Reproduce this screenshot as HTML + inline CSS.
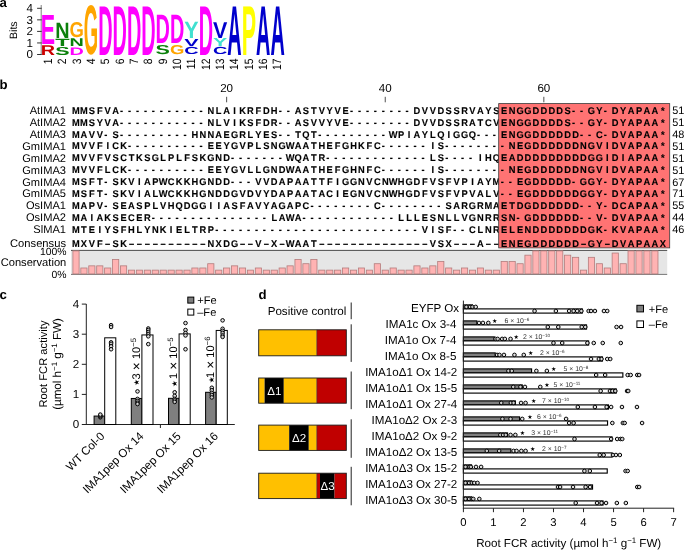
<!DOCTYPE html>
<html lang="en"><head><meta charset="utf-8"><title>IMA peptide figure</title>
<style>
html,body{margin:0;padding:0;background:#fff;}
body{width:685px;height:550px;overflow:hidden;}
svg{display:block;font-family:"Liberation Sans", "DejaVu Sans", sans-serif;}
text{white-space:pre;text-rendering:geometricPrecision;}
</style></head><body>
<svg width="685" height="550" viewBox="0 0 685 550">
<rect width="685" height="550" fill="#fff"/>
<g id="panel-a">
<text x="-0.60" y="7.00" font-size="13.2" font-weight="bold">a</text>
<line x1="41.20" y1="5.00" x2="41.20" y2="55.00" stroke="#808080" stroke-width="1"/>
<line x1="37.10" y1="54.50" x2="41.70" y2="54.50" stroke="#333" stroke-width="1"/>
<text x="33.00" y="58.40" font-size="11.6" text-anchor="end">0</text>
<line x1="37.10" y1="42.95" x2="41.70" y2="42.95" stroke="#333" stroke-width="1"/>
<text x="33.00" y="46.85" font-size="11.6" text-anchor="end">1</text>
<line x1="37.10" y1="31.40" x2="41.70" y2="31.40" stroke="#333" stroke-width="1"/>
<text x="33.00" y="35.30" font-size="11.6" text-anchor="end">2</text>
<line x1="37.10" y1="19.85" x2="41.70" y2="19.85" stroke="#333" stroke-width="1"/>
<text x="33.00" y="23.75" font-size="11.6" text-anchor="end">3</text>
<line x1="37.10" y1="8.30" x2="41.70" y2="8.30" stroke="#333" stroke-width="1"/>
<text x="33.00" y="12.20" font-size="11.6" text-anchor="end">4</text>
<text transform="translate(17.3,30.2) rotate(-90)" font-size="10.6" text-anchor="middle">Bits</text>
<text transform="translate(40.80,54.60) scale(0.1987,0.1424)" font-size="100" font-weight="bold" fill="#cc0000">R</text>
<text transform="translate(40.80,43.70) scale(0.2151,0.4230)" font-size="100" font-weight="bold" fill="#ff00ff">E</text>
<text transform="translate(51.87,58.6) rotate(-90) scale(0.95,1.12)" font-size="10.8" text-anchor="end">1</text>
<text transform="translate(55.15,54.68) scale(0.2151,0.1158)" font-size="100" font-weight="bold" fill="#0a800a">S</text>
<text transform="translate(55.15,45.80) scale(0.2349,0.1047)" font-size="100" font-weight="bold" fill="#0a800a">T</text>
<text transform="translate(55.15,37.90) scale(0.1987,0.2224)" font-size="100" font-weight="bold" fill="#0a800a">N</text>
<text transform="translate(66.22,58.6) rotate(-90) scale(0.95,1.12)" font-size="10.8" text-anchor="end">2</text>
<text transform="translate(69.50,54.60) scale(0.1987,0.1090)" font-size="100" font-weight="bold" fill="#ff00ff">D</text>
<text transform="translate(69.50,46.20) scale(0.1987,0.1134)" font-size="100" font-weight="bold" fill="#0a800a">N</text>
<text transform="translate(69.50,37.28) scale(0.1845,0.2161)" font-size="100" font-weight="bold" fill="#ffa500">G</text>
<text transform="translate(80.58,58.6) rotate(-90) scale(0.95,1.12)" font-size="10.8" text-anchor="end">3</text>
<text transform="translate(83.85,54.10) scale(0.1845,0.7006)" font-size="100" font-weight="bold" fill="#ffa500">G</text>
<text transform="translate(94.92,58.6) rotate(-90) scale(0.95,1.12)" font-size="10.8" text-anchor="end">4</text>
<text transform="translate(98.20,54.50) scale(0.1987,0.7064)" font-size="100" font-weight="bold" fill="#ff00ff">D</text>
<text transform="translate(109.27,58.6) rotate(-90) scale(0.95,1.12)" font-size="10.8" text-anchor="end">5</text>
<text transform="translate(112.55,54.50) scale(0.1987,0.7064)" font-size="100" font-weight="bold" fill="#ff00ff">D</text>
<text transform="translate(123.62,58.6) rotate(-90) scale(0.95,1.12)" font-size="10.8" text-anchor="end">6</text>
<text transform="translate(126.90,54.50) scale(0.1987,0.7064)" font-size="100" font-weight="bold" fill="#ff00ff">D</text>
<text transform="translate(137.97,58.6) rotate(-90) scale(0.95,1.12)" font-size="10.8" text-anchor="end">7</text>
<text transform="translate(141.25,54.50) scale(0.1987,0.7064)" font-size="100" font-weight="bold" fill="#ff00ff">D</text>
<text transform="translate(152.33,58.6) rotate(-90) scale(0.95,1.12)" font-size="10.8" text-anchor="end">8</text>
<text transform="translate(155.60,54.37) scale(0.2151,0.1299)" font-size="100" font-weight="bold" fill="#0a800a">S</text>
<text transform="translate(155.60,43.10) scale(0.1987,0.4099)" font-size="100" font-weight="bold" fill="#ff00ff">D</text>
<text transform="translate(166.68,58.6) rotate(-90) scale(0.95,1.12)" font-size="10.8" text-anchor="end">9</text>
<text transform="translate(169.95,54.37) scale(0.1845,0.1299)" font-size="100" font-weight="bold" fill="#ffa500">G</text>
<text transform="translate(169.95,43.10) scale(0.1987,0.4099)" font-size="100" font-weight="bold" fill="#ff00ff">D</text>
<text transform="translate(181.03,58.6) rotate(-90) scale(0.95,1.12)" font-size="10.8" text-anchor="end">10</text>
<text transform="translate(184.30,54.30) scale(0.1987,0.1045)" font-size="100" font-weight="bold" fill="#0000cc">C</text>
<text transform="translate(184.30,45.80) scale(0.2151,0.1032)" font-size="100" font-weight="bold" fill="#0000cc">V</text>
<text transform="translate(184.30,37.70) scale(0.2151,0.2369)" font-size="100" font-weight="bold" fill="#40e0d0">Y</text>
<text transform="translate(195.38,58.6) rotate(-90) scale(0.95,1.12)" font-size="10.8" text-anchor="end">11</text>
<text transform="translate(198.65,54.50) scale(0.1987,0.7064)" font-size="100" font-weight="bold" fill="#ff00ff">D</text>
<text transform="translate(209.72,58.6) rotate(-90) scale(0.95,1.12)" font-size="10.8" text-anchor="end">12</text>
<text transform="translate(213.00,54.30) scale(0.1987,0.1045)" font-size="100" font-weight="bold" fill="#0000cc">C</text>
<text transform="translate(213.00,46.20) scale(0.2151,0.1163)" font-size="100" font-weight="bold" fill="#40e0d0">Y</text>
<text transform="translate(213.00,37.70) scale(0.2151,0.2282)" font-size="100" font-weight="bold" fill="#0000cc">V</text>
<text transform="translate(224.08,58.6) rotate(-90) scale(0.95,1.12)" font-size="10.8" text-anchor="end">13</text>
<text transform="translate(227.35,54.50) scale(0.1987,0.7064)" font-size="100" font-weight="bold" fill="#0000cc">A</text>
<text transform="translate(238.42,58.6) rotate(-90) scale(0.95,1.12)" font-size="10.8" text-anchor="end">14</text>
<text transform="translate(241.70,54.50) scale(0.2151,0.7064)" font-size="100" font-weight="bold" fill="#ffff00">P</text>
<text transform="translate(252.78,58.6) rotate(-90) scale(0.95,1.12)" font-size="10.8" text-anchor="end">15</text>
<text transform="translate(256.05,54.50) scale(0.1987,0.7064)" font-size="100" font-weight="bold" fill="#0000cc">A</text>
<text transform="translate(267.12,58.6) rotate(-90) scale(0.95,1.12)" font-size="10.8" text-anchor="end">16</text>
<text transform="translate(270.40,54.50) scale(0.1987,0.7064)" font-size="100" font-weight="bold" fill="#0000cc">A</text>
<text transform="translate(281.47,58.6) rotate(-90) scale(0.95,1.12)" font-size="10.8" text-anchor="end">17</text>
</g>
<g id="panel-b">
<text x="-0.60" y="89.20" font-size="13.2" font-weight="bold">b</text>
<text x="226.63" y="92.30" font-size="11.6" text-anchor="middle">20</text>
<line x1="226.63" y1="96.80" x2="226.63" y2="102.30" stroke="#222" stroke-width="0.8"/>
<text x="385.24" y="92.30" font-size="11.6" text-anchor="middle">40</text>
<line x1="385.24" y1="96.80" x2="385.24" y2="102.30" stroke="#222" stroke-width="0.8"/>
<text x="543.84" y="92.30" font-size="11.6" text-anchor="middle">60</text>
<line x1="543.84" y1="96.80" x2="543.84" y2="102.30" stroke="#222" stroke-width="0.8"/>
<text x="66.00" y="114.30" font-size="11.1" text-anchor="end">AtIMA1</text>
<text transform="translate(0,113.77) scale(1,1.04)" x="75.97 83.89 91.83 99.75 107.69 115.61 121.64 129.57 137.50 145.43 153.36 161.29 169.22 177.16 185.09 193.01 200.94 210.78 218.70 226.63 234.56 242.50 250.42 258.36 266.28 274.22 280.25 288.18 298.00 305.94 313.87 321.79 329.72 337.65 345.58 351.62 359.55 367.48 375.41 383.34 391.26 399.19 407.12 416.95 424.88 432.81 440.75 448.68 456.60 464.53 472.46 480.39 488.32 496.25" y="0" font-size="9.3" font-weight="bold" text-anchor="middle" stroke="#000" stroke-width="0.12">MMSFVA-----------NLAIKRFDH--ASTVYVE--------DVVDSSRVAYS</text>
<text x="66.00" y="126.18" font-size="11.1" text-anchor="end">AtIMA2</text>
<text transform="translate(0,125.65) scale(1,1.04)" x="75.97 83.89 91.83 99.75 107.69 115.61 121.64 129.57 137.50 145.43 153.36 161.29 169.22 177.16 185.09 193.01 200.94 210.78 218.70 226.63 234.56 242.50 250.42 258.36 266.28 274.22 280.25 288.18 298.00 305.94 313.87 321.79 329.72 337.65 345.58 351.62 359.55 367.48 375.41 383.34 391.26 399.19 407.12 416.95 424.88 432.81 440.75 448.68 456.60 464.53 472.46 480.39 488.32 496.25" y="0" font-size="9.3" font-weight="bold" text-anchor="middle" stroke="#000" stroke-width="0.12">MMSYVA-----------NLVIKSFDR--ASVVYVE--------DVVDSSRATCV</text>
<text x="66.00" y="138.06" font-size="11.1" text-anchor="end">AtIMA3</text>
<text transform="translate(0,137.53) scale(1,1.04)" x="75.97 83.89 91.83 99.75 105.78 115.61 121.64 129.57 137.50 145.43 153.36 161.29 169.22 177.16 185.09 194.91 202.84 210.78 218.70 226.63 234.56 242.50 250.42 258.36 266.28 274.22 280.25 288.18 298.00 305.94 313.87 319.89 327.82 335.75 343.69 351.62 359.55 367.48 375.41 383.34 393.16 401.09 409.02 416.95 424.88 432.81 440.75 448.68 456.60 464.53 472.46 478.50 486.43 494.36" y="0" font-size="9.3" font-weight="bold" text-anchor="middle" stroke="#000" stroke-width="0.12">MAVV-S---------HNNAEGRLYES--TQT---------WPIAYLQIGGQ---</text>
<text x="66.00" y="149.94" font-size="11.1" text-anchor="end">GmIMA1</text>
<text transform="translate(0,149.41) scale(1,1.04)" x="75.97 83.89 91.83 99.75 107.69 115.61 123.55 129.57 137.50 145.43 153.36 161.29 169.22 177.16 185.09 193.01 200.94 210.78 218.70 226.63 234.56 242.50 250.42 258.36 266.28 274.22 282.14 290.07 298.00 305.94 313.87 321.79 329.72 337.65 345.58 353.51 361.44 369.38 377.31 383.34 391.26 399.19 407.12 415.06 422.99 432.81 440.75 446.78 454.70 462.63 470.56 478.50 486.43 494.36" y="0" font-size="9.3" font-weight="bold" text-anchor="middle" stroke="#000" stroke-width="0.12">MVVFICK----------EEYGVPLSNGWAATHEFGHKFC------IS-------</text>
<text x="66.00" y="161.82" font-size="11.1" text-anchor="end">GmIMA2</text>
<text transform="translate(0,161.29) scale(1,1.04)" x="75.97 83.89 91.83 99.75 107.69 115.61 123.55 131.47 139.41 147.33 155.26 163.19 171.12 179.06 186.99 194.91 202.84 210.78 218.70 226.63 232.66 240.59 248.52 256.46 264.38 272.32 280.25 290.07 298.00 305.94 313.87 321.79 327.82 335.75 343.69 351.62 359.55 367.48 375.41 383.34 391.26 399.19 407.12 415.06 422.99 432.81 440.75 446.78 454.70 462.63 470.56 480.39 488.32 496.25" y="0" font-size="9.3" font-weight="bold" text-anchor="middle" stroke="#000" stroke-width="0.12">MVVFVSCTKSGLPLFSKGND-------WQATR-------------LS----IHQ</text>
<text x="66.00" y="173.70" font-size="11.1" text-anchor="end">GmIMA3</text>
<text transform="translate(0,173.17) scale(1,1.04)" x="75.97 83.89 91.83 99.75 107.69 115.61 123.55 129.57 137.50 145.43 153.36 161.29 169.22 177.16 185.09 193.01 200.94 210.78 218.70 226.63 234.56 242.50 250.42 258.36 266.28 274.22 282.14 290.07 298.00 305.94 313.87 321.79 329.72 337.65 345.58 353.51 361.44 369.38 377.31 383.34 391.26 399.19 407.12 415.06 422.99 432.81 440.75 446.78 454.70 462.63 470.56 478.50 486.43 494.36" y="0" font-size="9.3" font-weight="bold" text-anchor="middle" stroke="#000" stroke-width="0.12">MVVFLCK----------EEYGVLLGNDWAATHEFGHNFC------IS-------</text>
<text x="66.00" y="185.58" font-size="11.1" text-anchor="end">GmIMA4</text>
<text transform="translate(0,185.05) scale(1,1.04)" x="75.97 83.89 91.83 99.75 105.78 115.61 123.55 131.47 139.41 147.33 155.26 163.19 171.12 179.06 186.99 194.91 202.84 210.78 218.70 226.63 232.66 240.59 248.52 258.36 266.28 274.22 282.14 290.07 298.00 305.94 313.87 321.79 329.72 337.65 345.58 353.51 361.44 369.38 377.31 385.24 393.16 401.09 409.02 416.95 424.88 432.81 440.75 448.68 456.60 464.53 472.46 480.39 488.32 496.25" y="0" font-size="9.3" font-weight="bold" text-anchor="middle" stroke="#000" stroke-width="0.12">MSFT-SKVIAPWCKKHGNDD---VVDAPAATTFIGGNVCNWHGDFVSFVPIAYM</text>
<text x="66.00" y="197.46" font-size="11.1" text-anchor="end">GmIMA5</text>
<text transform="translate(0,196.93) scale(1,1.04)" x="75.97 83.89 91.83 99.75 105.78 115.61 123.55 131.47 139.41 147.33 155.26 163.19 171.12 179.06 186.99 194.91 202.84 210.78 218.70 226.63 234.56 242.50 250.42 258.36 266.28 274.22 282.14 290.07 298.00 305.94 313.87 321.79 329.72 337.65 345.58 353.51 361.44 369.38 377.31 385.24 393.16 401.09 409.02 416.95 424.88 432.81 440.75 448.68 456.60 464.53 472.46 480.39 488.32 496.25" y="0" font-size="9.3" font-weight="bold" text-anchor="middle" stroke="#000" stroke-width="0.12">MSFT-SKVIALWCKKHGNDDGVDVYDAPAATACIEGNVCNWHGDFVSFVPVALV</text>
<text x="66.00" y="209.34" font-size="11.1" text-anchor="end">OsIMA1</text>
<text transform="translate(0,208.81) scale(1,1.04)" x="75.97 83.89 91.83 99.75 105.78 115.61 123.55 131.47 139.41 147.33 155.26 163.19 171.12 179.06 186.99 194.91 202.84 210.78 218.70 226.63 234.56 242.50 250.42 258.36 266.28 274.22 282.14 290.07 298.00 305.94 311.97 319.89 327.82 335.75 343.69 351.62 359.55 367.48 377.31 383.34 391.26 399.19 407.12 415.06 422.99 430.92 438.85 448.68 456.60 464.53 472.46 480.39 488.32 496.25" y="0" font-size="9.3" font-weight="bold" text-anchor="middle" stroke="#000" stroke-width="0.12">MAPV-SEASPLVHQDGGIIASFAVYAGAPC--------C--------SARGRMA</text>
<text x="66.00" y="221.22" font-size="11.1" text-anchor="end">OsIMA2</text>
<text transform="translate(0,220.69) scale(1,1.04)" x="75.97 83.89 91.83 99.75 107.69 115.61 123.55 131.47 139.41 147.33 153.36 161.29 169.22 177.16 185.09 193.01 200.94 208.88 216.80 224.73 232.66 240.59 248.52 256.46 264.38 274.22 282.14 290.07 298.00 304.04 311.97 319.89 327.82 335.75 343.69 351.62 359.55 367.48 375.41 383.34 391.26 401.09 409.02 416.95 424.88 432.81 440.75 448.68 456.60 464.53 472.46 480.39 488.32 496.25" y="0" font-size="9.3" font-weight="bold" text-anchor="middle" stroke="#000" stroke-width="0.12">MAIAKSECER---------------LAWA------------LLLESNLLVGNRR</text>
<text x="66.00" y="233.10" font-size="11.1" text-anchor="end">SlMA1</text>
<text transform="translate(0,232.57) scale(1,1.04)" x="75.97 83.89 91.83 99.75 107.69 115.61 123.55 131.47 139.41 147.33 155.26 163.19 171.12 179.06 186.99 194.91 202.84 210.78 216.80 224.73 232.66 240.59 248.52 256.46 264.38 272.32 280.25 288.18 296.11 304.04 311.97 319.89 327.82 335.75 343.69 351.62 359.55 367.48 375.41 383.34 391.26 399.19 407.12 415.06 424.88 432.81 440.75 448.68 454.70 462.63 472.46 480.39 488.32 496.25" y="0" font-size="9.3" font-weight="bold" text-anchor="middle" stroke="#000" stroke-width="0.12">MTEIYSFHLYNKIELTRP--------------------------VISF--CLNR</text>
<text x="66.00" y="247.10" font-size="11.2" text-anchor="end">Consensus</text>
<text transform="translate(0,246.57) scale(1,1.04)" x="75.97 83.89 91.83 99.75 107.69 115.61 123.55 131.47 139.41 147.33 155.26 163.19 171.12 179.06 186.99 194.91 202.84 210.78 218.70 226.63 234.56 242.50 250.42 258.36 266.28 274.22 282.14 290.07 298.00 305.94 313.87 321.79 329.72 337.65 345.58 353.51 361.44 369.38 377.31 385.24 393.16 401.09 409.02 416.95 424.88 432.81 440.75 448.68 456.60 464.53 472.46 480.39 488.32 496.25" y="0" font-size="9.3" font-weight="bold" text-anchor="middle" stroke="#000" stroke-width="0.12">MXVF–SK––––––––––NXDG––V–X–WAAT––––––––––––––VSX–––A––</text>
<rect x="498.70" y="103.60" width="171.00" height="144.30" fill="#ff7373" stroke="#3a3a3a" stroke-width="0.8"/>
<text transform="translate(0,113.77) scale(1,1.04)" x="504.19 512.12 520.04 527.97 535.90 543.84 551.76 559.69 567.62 573.66 581.58 591.41 599.35 605.38 615.20 623.13 631.06 639.00 646.92 654.86 662.78" y="0" font-size="9.3" font-weight="bold" text-anchor="middle" stroke="#000" stroke-width="0.12">ENGGDDDDS--GY-DYAPAA*</text>
<text x="672.30" y="114.30" font-size="10.9">51</text>
<text transform="translate(0,125.65) scale(1,1.04)" x="504.19 512.12 520.04 527.97 535.90 543.84 551.76 559.69 567.62 573.66 581.58 591.41 599.35 605.38 615.20 623.13 631.06 639.00 646.92 654.86 662.78" y="0" font-size="9.3" font-weight="bold" text-anchor="middle" stroke="#000" stroke-width="0.12">ENGGDDDDS--GY-DYAPAA*</text>
<text x="672.30" y="126.18" font-size="10.9">51</text>
<text transform="translate(0,137.53) scale(1,1.04)" x="504.19 512.12 520.04 527.97 535.90 543.84 551.76 559.69 567.62 575.56 581.58 589.51 599.35 605.38 615.20 623.13 631.06 639.00 646.92 654.86 662.78" y="0" font-size="9.3" font-weight="bold" text-anchor="middle" stroke="#000" stroke-width="0.12">ENGGDDDDDD--C-DVAPAA*</text>
<text x="672.30" y="138.06" font-size="10.9">48</text>
<text transform="translate(0,149.41) scale(1,1.04)" x="502.29 512.12 520.04 527.97 535.90 543.84 551.76 559.69 567.62 575.56 583.48 591.41 599.35 607.27 615.20 623.13 631.06 639.00 646.92 654.86 662.78" y="0" font-size="9.3" font-weight="bold" text-anchor="middle" stroke="#000" stroke-width="0.12">-NEGDDDDDDNGVIDVAPAA*</text>
<text x="672.30" y="149.94" font-size="10.9">51</text>
<text transform="translate(0,161.29) scale(1,1.04)" x="504.19 512.12 520.04 527.97 535.90 543.84 551.76 559.69 567.62 575.56 583.48 591.41 599.35 607.27 615.20 623.13 631.06 639.00 646.92 654.86 662.78" y="0" font-size="9.3" font-weight="bold" text-anchor="middle" stroke="#000" stroke-width="0.12">EADDDDDDDDDGGIDIAPAA*</text>
<text x="672.30" y="161.82" font-size="10.9">51</text>
<text transform="translate(0,173.17) scale(1,1.04)" x="502.29 512.12 520.04 527.97 535.90 543.84 551.76 559.69 567.62 575.56 583.48 591.41 599.35 607.27 615.20 623.13 631.06 639.00 646.92 654.86 662.78" y="0" font-size="9.3" font-weight="bold" text-anchor="middle" stroke="#000" stroke-width="0.12">-NEGDDDDDDNGVIDVAPAA*</text>
<text x="672.30" y="173.70" font-size="10.9">51</text>
<text transform="translate(0,185.05) scale(1,1.04)" x="502.29 510.22 520.04 527.97 535.90 543.84 551.76 559.69 567.62 573.66 583.48 591.41 599.35 605.38 615.20 623.13 631.06 639.00 646.92 654.86 662.78" y="0" font-size="9.3" font-weight="bold" text-anchor="middle" stroke="#000" stroke-width="0.12">--EGDDDDD-GGY-DYAPAA*</text>
<text x="672.30" y="185.58" font-size="10.9">67</text>
<text transform="translate(0,196.93) scale(1,1.04)" x="502.29 510.22 520.04 527.97 535.90 543.84 551.76 559.69 567.62 575.56 583.48 591.41 599.35 605.38 615.20 623.13 631.06 639.00 646.92 654.86 662.78" y="0" font-size="9.3" font-weight="bold" text-anchor="middle" stroke="#000" stroke-width="0.12">--EGDDDDDDGGY-DYAPAA*</text>
<text x="672.30" y="197.46" font-size="10.9">71</text>
<text transform="translate(0,208.81) scale(1,1.04)" x="504.19 512.12 520.04 527.97 535.90 543.84 551.76 559.69 567.62 575.56 581.58 589.51 599.35 605.38 615.20 623.13 631.06 639.00 646.92 654.86 662.78" y="0" font-size="9.3" font-weight="bold" text-anchor="middle" stroke="#000" stroke-width="0.12">ETDGDDDDDD--Y-DCAPAA*</text>
<text x="672.30" y="209.34" font-size="10.9">55</text>
<text transform="translate(0,220.69) scale(1,1.04)" x="504.19 512.12 518.14 527.97 535.90 543.84 551.76 559.69 567.62 575.56 581.58 589.51 599.35 605.38 615.20 623.13 631.06 639.00 646.92 654.86 662.78" y="0" font-size="9.3" font-weight="bold" text-anchor="middle" stroke="#000" stroke-width="0.12">SN-GDDDDDD--V-DVAPAA*</text>
<text x="672.30" y="221.22" font-size="10.9">44</text>
<text transform="translate(0,232.57) scale(1,1.04)" x="504.19 512.12 520.04 527.97 535.90 543.84 551.76 559.69 567.62 575.56 583.48 591.41 599.35 605.38 615.20 623.13 631.06 639.00 646.92 654.86 662.78" y="0" font-size="9.3" font-weight="bold" text-anchor="middle" stroke="#000" stroke-width="0.12">ELENDDDDDDDGK-KVAPAA*</text>
<text x="672.30" y="233.10" font-size="10.9">46</text>
<text transform="translate(0,246.57) scale(1,1.04)" x="504.19 512.12 520.04 527.97 535.90 543.84 551.76 559.69 567.62 575.56 583.48 591.41 599.35 607.27 615.20 623.13 631.06 639.00 646.92 654.86 662.78" y="0" font-size="9.3" font-weight="bold" text-anchor="middle" stroke="#000" stroke-width="0.12">ENEGDDDDDD–GY–DVAPAAX</text>
<rect x="71.00" y="250.40" width="596.20" height="24.00" fill="#e6e6e6"/>
<line x1="71.00" y1="250.40" x2="667.20" y2="250.40" stroke="#222" stroke-width="0.8"/>
<line x1="71.00" y1="274.40" x2="667.20" y2="274.40" stroke="#777" stroke-width="1"/>
<rect x="72.90" y="250.90" width="6.20" height="23.00" fill="#ffb3b3" stroke="#b47c7c" stroke-width="0.8"/>
<rect x="80.83" y="267.99" width="6.20" height="5.91" fill="#ffb3b3" stroke="#b47c7c" stroke-width="0.8"/>
<rect x="88.76" y="265.85" width="6.20" height="8.05" fill="#ffb3b3" stroke="#b47c7c" stroke-width="0.8"/>
<rect x="96.69" y="265.85" width="6.20" height="8.05" fill="#ffb3b3" stroke="#b47c7c" stroke-width="0.8"/>
<rect x="104.62" y="267.99" width="6.20" height="5.91" fill="#ffb3b3" stroke="#b47c7c" stroke-width="0.8"/>
<rect x="112.55" y="259.45" width="6.20" height="14.45" fill="#ffb3b3" stroke="#b47c7c" stroke-width="0.8"/>
<rect x="120.48" y="265.85" width="6.20" height="8.05" fill="#ffb3b3" stroke="#b47c7c" stroke-width="0.8"/>
<rect x="128.41" y="270.13" width="6.20" height="3.77" fill="#ffb3b3" stroke="#b47c7c" stroke-width="0.8"/>
<rect x="136.34" y="270.13" width="6.20" height="3.77" fill="#ffb3b3" stroke="#b47c7c" stroke-width="0.8"/>
<rect x="144.27" y="270.13" width="6.20" height="3.77" fill="#ffb3b3" stroke="#b47c7c" stroke-width="0.8"/>
<rect x="152.20" y="270.13" width="6.20" height="3.77" fill="#ffb3b3" stroke="#b47c7c" stroke-width="0.8"/>
<rect x="160.13" y="270.13" width="6.20" height="3.77" fill="#ffb3b3" stroke="#b47c7c" stroke-width="0.8"/>
<rect x="168.06" y="270.13" width="6.20" height="3.77" fill="#ffb3b3" stroke="#b47c7c" stroke-width="0.8"/>
<rect x="175.99" y="270.13" width="6.20" height="3.77" fill="#ffb3b3" stroke="#b47c7c" stroke-width="0.8"/>
<rect x="183.92" y="270.13" width="6.20" height="3.77" fill="#ffb3b3" stroke="#b47c7c" stroke-width="0.8"/>
<rect x="191.85" y="267.99" width="6.20" height="5.91" fill="#ffb3b3" stroke="#b47c7c" stroke-width="0.8"/>
<rect x="199.78" y="267.99" width="6.20" height="5.91" fill="#ffb3b3" stroke="#b47c7c" stroke-width="0.8"/>
<rect x="207.71" y="263.72" width="6.20" height="10.18" fill="#ffb3b3" stroke="#b47c7c" stroke-width="0.8"/>
<rect x="215.64" y="270.13" width="6.20" height="3.77" fill="#ffb3b3" stroke="#b47c7c" stroke-width="0.8"/>
<rect x="223.57" y="267.99" width="6.20" height="5.91" fill="#ffb3b3" stroke="#b47c7c" stroke-width="0.8"/>
<rect x="231.50" y="265.85" width="6.20" height="8.05" fill="#ffb3b3" stroke="#b47c7c" stroke-width="0.8"/>
<rect x="239.43" y="267.99" width="6.20" height="5.91" fill="#ffb3b3" stroke="#b47c7c" stroke-width="0.8"/>
<rect x="247.36" y="270.13" width="6.20" height="3.77" fill="#ffb3b3" stroke="#b47c7c" stroke-width="0.8"/>
<rect x="255.29" y="267.99" width="6.20" height="5.91" fill="#ffb3b3" stroke="#b47c7c" stroke-width="0.8"/>
<rect x="263.22" y="270.13" width="6.20" height="3.77" fill="#ffb3b3" stroke="#b47c7c" stroke-width="0.8"/>
<rect x="271.15" y="270.13" width="6.20" height="3.77" fill="#ffb3b3" stroke="#b47c7c" stroke-width="0.8"/>
<rect x="279.08" y="267.99" width="6.20" height="5.91" fill="#ffb3b3" stroke="#b47c7c" stroke-width="0.8"/>
<rect x="287.01" y="265.85" width="6.20" height="8.05" fill="#ffb3b3" stroke="#b47c7c" stroke-width="0.8"/>
<rect x="294.94" y="259.45" width="6.20" height="14.45" fill="#ffb3b3" stroke="#b47c7c" stroke-width="0.8"/>
<rect x="302.87" y="263.72" width="6.20" height="10.18" fill="#ffb3b3" stroke="#b47c7c" stroke-width="0.8"/>
<rect x="310.80" y="259.45" width="6.20" height="14.45" fill="#ffb3b3" stroke="#b47c7c" stroke-width="0.8"/>
<rect x="318.73" y="270.13" width="6.20" height="3.77" fill="#ffb3b3" stroke="#b47c7c" stroke-width="0.8"/>
<rect x="326.66" y="270.13" width="6.20" height="3.77" fill="#ffb3b3" stroke="#b47c7c" stroke-width="0.8"/>
<rect x="334.59" y="270.13" width="6.20" height="3.77" fill="#ffb3b3" stroke="#b47c7c" stroke-width="0.8"/>
<rect x="342.52" y="267.99" width="6.20" height="5.91" fill="#ffb3b3" stroke="#b47c7c" stroke-width="0.8"/>
<rect x="350.45" y="270.13" width="6.20" height="3.77" fill="#ffb3b3" stroke="#b47c7c" stroke-width="0.8"/>
<rect x="358.38" y="267.99" width="6.20" height="5.91" fill="#ffb3b3" stroke="#b47c7c" stroke-width="0.8"/>
<rect x="366.31" y="270.13" width="6.20" height="3.77" fill="#ffb3b3" stroke="#b47c7c" stroke-width="0.8"/>
<rect x="374.24" y="263.72" width="6.20" height="10.18" fill="#ffb3b3" stroke="#b47c7c" stroke-width="0.8"/>
<rect x="382.17" y="270.13" width="6.20" height="3.77" fill="#ffb3b3" stroke="#b47c7c" stroke-width="0.8"/>
<rect x="390.10" y="267.99" width="6.20" height="5.91" fill="#ffb3b3" stroke="#b47c7c" stroke-width="0.8"/>
<rect x="398.03" y="270.13" width="6.20" height="3.77" fill="#ffb3b3" stroke="#b47c7c" stroke-width="0.8"/>
<rect x="405.96" y="270.13" width="6.20" height="3.77" fill="#ffb3b3" stroke="#b47c7c" stroke-width="0.8"/>
<rect x="413.89" y="265.85" width="6.20" height="8.05" fill="#ffb3b3" stroke="#b47c7c" stroke-width="0.8"/>
<rect x="421.82" y="267.99" width="6.20" height="5.91" fill="#ffb3b3" stroke="#b47c7c" stroke-width="0.8"/>
<rect x="429.75" y="265.85" width="6.20" height="8.05" fill="#ffb3b3" stroke="#b47c7c" stroke-width="0.8"/>
<rect x="437.68" y="261.58" width="6.20" height="12.32" fill="#ffb3b3" stroke="#b47c7c" stroke-width="0.8"/>
<rect x="445.61" y="267.99" width="6.20" height="5.91" fill="#ffb3b3" stroke="#b47c7c" stroke-width="0.8"/>
<rect x="453.54" y="270.13" width="6.20" height="3.77" fill="#ffb3b3" stroke="#b47c7c" stroke-width="0.8"/>
<rect x="461.47" y="267.99" width="6.20" height="5.91" fill="#ffb3b3" stroke="#b47c7c" stroke-width="0.8"/>
<rect x="469.40" y="270.13" width="6.20" height="3.77" fill="#ffb3b3" stroke="#b47c7c" stroke-width="0.8"/>
<rect x="477.33" y="267.99" width="6.20" height="5.91" fill="#ffb3b3" stroke="#b47c7c" stroke-width="0.8"/>
<rect x="485.26" y="270.13" width="6.20" height="3.77" fill="#ffb3b3" stroke="#b47c7c" stroke-width="0.8"/>
<rect x="493.19" y="270.13" width="6.20" height="3.77" fill="#ffb3b3" stroke="#b47c7c" stroke-width="0.8"/>
<rect x="501.12" y="261.58" width="6.20" height="12.32" fill="#ffb3b3" stroke="#b47c7c" stroke-width="0.8"/>
<rect x="509.05" y="261.58" width="6.20" height="12.32" fill="#ffb3b3" stroke="#b47c7c" stroke-width="0.8"/>
<rect x="516.98" y="263.72" width="6.20" height="10.18" fill="#ffb3b3" stroke="#b47c7c" stroke-width="0.8"/>
<rect x="524.91" y="255.17" width="6.20" height="18.73" fill="#ffb3b3" stroke="#b47c7c" stroke-width="0.8"/>
<rect x="532.84" y="250.90" width="6.20" height="23.00" fill="#ffb3b3" stroke="#b47c7c" stroke-width="0.8"/>
<rect x="540.77" y="250.90" width="6.20" height="23.00" fill="#ffb3b3" stroke="#b47c7c" stroke-width="0.8"/>
<rect x="548.70" y="250.90" width="6.20" height="23.00" fill="#ffb3b3" stroke="#b47c7c" stroke-width="0.8"/>
<rect x="556.63" y="250.90" width="6.20" height="23.00" fill="#ffb3b3" stroke="#b47c7c" stroke-width="0.8"/>
<rect x="564.56" y="255.17" width="6.20" height="18.73" fill="#ffb3b3" stroke="#b47c7c" stroke-width="0.8"/>
<rect x="572.49" y="257.31" width="6.20" height="16.59" fill="#ffb3b3" stroke="#b47c7c" stroke-width="0.8"/>
<rect x="580.42" y="270.13" width="6.20" height="3.77" fill="#ffb3b3" stroke="#b47c7c" stroke-width="0.8"/>
<rect x="588.35" y="257.31" width="6.20" height="16.59" fill="#ffb3b3" stroke="#b47c7c" stroke-width="0.8"/>
<rect x="596.28" y="263.72" width="6.20" height="10.18" fill="#ffb3b3" stroke="#b47c7c" stroke-width="0.8"/>
<rect x="604.21" y="267.99" width="6.20" height="5.91" fill="#ffb3b3" stroke="#b47c7c" stroke-width="0.8"/>
<rect x="612.14" y="253.04" width="6.20" height="20.86" fill="#ffb3b3" stroke="#b47c7c" stroke-width="0.8"/>
<rect x="620.07" y="263.72" width="6.20" height="10.18" fill="#ffb3b3" stroke="#b47c7c" stroke-width="0.8"/>
<rect x="628.00" y="250.90" width="6.20" height="23.00" fill="#ffb3b3" stroke="#b47c7c" stroke-width="0.8"/>
<rect x="635.93" y="250.90" width="6.20" height="23.00" fill="#ffb3b3" stroke="#b47c7c" stroke-width="0.8"/>
<rect x="643.86" y="250.90" width="6.20" height="23.00" fill="#ffb3b3" stroke="#b47c7c" stroke-width="0.8"/>
<rect x="651.79" y="250.90" width="6.20" height="23.00" fill="#ffb3b3" stroke="#b47c7c" stroke-width="0.8"/>
<text x="66.50" y="254.90" font-size="10.4" text-anchor="end">100%</text>
<text x="66.30" y="266.40" font-size="11.15" text-anchor="end">Conservation</text>
<text x="66.50" y="278.30" font-size="10.4" text-anchor="end">0%</text>
</g>
<g id="panel-c">
<text x="-0.60" y="298.90" font-size="13.2" font-weight="bold">c</text>
<line x1="86.30" y1="304.00" x2="86.30" y2="424.50" stroke="#222" stroke-width="1"/>
<line x1="85.80" y1="424.50" x2="234.80" y2="424.50" stroke="#222" stroke-width="1"/>
<line x1="160.40" y1="424.50" x2="160.40" y2="428.00" stroke="#222" stroke-width="1"/>
<line x1="81.80" y1="424.50" x2="86.30" y2="424.50" stroke="#222" stroke-width="1"/>
<text x="79.30" y="428.40" font-size="11.6" text-anchor="end">0</text>
<line x1="81.80" y1="394.40" x2="86.30" y2="394.40" stroke="#222" stroke-width="1"/>
<text x="79.30" y="398.30" font-size="11.6" text-anchor="end">1</text>
<line x1="81.80" y1="364.30" x2="86.30" y2="364.30" stroke="#222" stroke-width="1"/>
<text x="79.30" y="368.20" font-size="11.6" text-anchor="end">2</text>
<line x1="81.80" y1="334.20" x2="86.30" y2="334.20" stroke="#222" stroke-width="1"/>
<text x="79.30" y="338.10" font-size="11.6" text-anchor="end">3</text>
<line x1="81.80" y1="304.10" x2="86.30" y2="304.10" stroke="#222" stroke-width="1"/>
<text x="79.30" y="308.00" font-size="11.6" text-anchor="end">4</text>
<text transform="translate(46.5,364) rotate(-90)" font-size="11.2" text-anchor="middle">Root FCR activity</text>
<text transform="translate(60.5,364) rotate(-90)" font-size="11.6" text-anchor="middle">(µmol h<tspan font-size="7.9" dy="-4">−1</tspan><tspan dy="4"> g</tspan><tspan font-size="7.9" dy="-4">−1</tspan><tspan dy="4"> FW)</tspan></text>
<rect x="94.10" y="416.07" width="10.60" height="8.43" fill="#7f7f7f" stroke="#000" stroke-width="1"/>
<rect x="104.70" y="337.81" width="11.10" height="86.69" fill="#fff" stroke="#000" stroke-width="1"/>
<circle cx="100.30" cy="417.28" r="1.8" fill="#dcdcdc" fill-opacity="0.85" stroke="#000" stroke-width="1"/>
<circle cx="100.30" cy="416.37" r="1.8" fill="#dcdcdc" fill-opacity="0.85" stroke="#000" stroke-width="1"/>
<circle cx="100.30" cy="415.47" r="1.8" fill="#dcdcdc" fill-opacity="0.85" stroke="#000" stroke-width="1"/>
<circle cx="100.30" cy="414.57" r="1.8" fill="#dcdcdc" fill-opacity="0.85" stroke="#000" stroke-width="1"/>
<circle cx="111.10" cy="325.17" r="1.8" fill="#dcdcdc" fill-opacity="0.85" stroke="#000" stroke-width="1"/>
<circle cx="111.10" cy="326.98" r="1.8" fill="#dcdcdc" fill-opacity="0.85" stroke="#000" stroke-width="1"/>
<circle cx="111.10" cy="342.33" r="1.8" fill="#dcdcdc" fill-opacity="0.85" stroke="#000" stroke-width="1"/>
<circle cx="111.10" cy="343.83" r="1.8" fill="#dcdcdc" fill-opacity="0.85" stroke="#000" stroke-width="1"/>
<circle cx="111.10" cy="346.24" r="1.8" fill="#dcdcdc" fill-opacity="0.85" stroke="#000" stroke-width="1"/>
<circle cx="111.10" cy="349.25" r="1.8" fill="#dcdcdc" fill-opacity="0.85" stroke="#000" stroke-width="1"/>
<text transform="translate(105.20,437.00) rotate(-45)" font-size="11.6" text-anchor="end">WT Col-0</text>
<rect x="131.30" y="398.46" width="10.60" height="26.04" fill="#7f7f7f" stroke="#000" stroke-width="1"/>
<rect x="141.90" y="334.95" width="11.10" height="89.55" fill="#fff" stroke="#000" stroke-width="1"/>
<circle cx="137.50" cy="391.39" r="1.8" fill="#dcdcdc" fill-opacity="0.85" stroke="#000" stroke-width="1"/>
<circle cx="137.50" cy="398.92" r="1.8" fill="#dcdcdc" fill-opacity="0.85" stroke="#000" stroke-width="1"/>
<circle cx="137.50" cy="401.02" r="1.8" fill="#dcdcdc" fill-opacity="0.85" stroke="#000" stroke-width="1"/>
<circle cx="137.50" cy="402.83" r="1.8" fill="#dcdcdc" fill-opacity="0.85" stroke="#000" stroke-width="1"/>
<circle cx="137.50" cy="404.03" r="1.8" fill="#dcdcdc" fill-opacity="0.85" stroke="#000" stroke-width="1"/>
<circle cx="148.30" cy="328.48" r="1.8" fill="#dcdcdc" fill-opacity="0.85" stroke="#000" stroke-width="1"/>
<circle cx="148.30" cy="329.99" r="1.8" fill="#dcdcdc" fill-opacity="0.85" stroke="#000" stroke-width="1"/>
<circle cx="148.30" cy="332.09" r="1.8" fill="#dcdcdc" fill-opacity="0.85" stroke="#000" stroke-width="1"/>
<circle cx="148.30" cy="334.20" r="1.8" fill="#dcdcdc" fill-opacity="0.85" stroke="#000" stroke-width="1"/>
<circle cx="148.30" cy="336.31" r="1.8" fill="#dcdcdc" fill-opacity="0.85" stroke="#000" stroke-width="1"/>
<circle cx="148.30" cy="344.13" r="1.8" fill="#dcdcdc" fill-opacity="0.85" stroke="#000" stroke-width="1"/>
<text transform="translate(139.40,382.50) rotate(-90)" font-size="7.4" text-anchor="middle">★</text>
<text transform="translate(139.90,379.40) rotate(-90)" font-size="11.1">3 <tspan font-size="13.6" dy="1.0">×</tspan><tspan dy="-1.0"> 10</tspan><tspan font-size="7.7" dy="-4.3">−5</tspan></text>
<text transform="translate(144.40,437.00) rotate(-45)" font-size="11.6" text-anchor="end">IMA1pep Ox 14</text>
<rect x="168.50" y="398.31" width="10.60" height="26.19" fill="#7f7f7f" stroke="#000" stroke-width="1"/>
<rect x="179.10" y="333.90" width="11.10" height="90.60" fill="#fff" stroke="#000" stroke-width="1"/>
<circle cx="174.70" cy="392.29" r="1.8" fill="#dcdcdc" fill-opacity="0.85" stroke="#000" stroke-width="1"/>
<circle cx="174.70" cy="395.90" r="1.8" fill="#dcdcdc" fill-opacity="0.85" stroke="#000" stroke-width="1"/>
<circle cx="174.70" cy="398.92" r="1.8" fill="#dcdcdc" fill-opacity="0.85" stroke="#000" stroke-width="1"/>
<circle cx="174.70" cy="400.42" r="1.8" fill="#dcdcdc" fill-opacity="0.85" stroke="#000" stroke-width="1"/>
<circle cx="174.70" cy="401.93" r="1.8" fill="#dcdcdc" fill-opacity="0.85" stroke="#000" stroke-width="1"/>
<circle cx="185.50" cy="323.06" r="1.8" fill="#dcdcdc" fill-opacity="0.85" stroke="#000" stroke-width="1"/>
<circle cx="185.50" cy="329.99" r="1.8" fill="#dcdcdc" fill-opacity="0.85" stroke="#000" stroke-width="1"/>
<circle cx="185.50" cy="333.00" r="1.8" fill="#dcdcdc" fill-opacity="0.85" stroke="#000" stroke-width="1"/>
<circle cx="185.50" cy="335.40" r="1.8" fill="#dcdcdc" fill-opacity="0.85" stroke="#000" stroke-width="1"/>
<circle cx="185.50" cy="349.25" r="1.8" fill="#dcdcdc" fill-opacity="0.85" stroke="#000" stroke-width="1"/>
<text transform="translate(177.00,383.70) rotate(-90)" font-size="7.4" text-anchor="middle">★</text>
<text transform="translate(177.10,379.00) rotate(-90)" font-size="11.1">1 <tspan font-size="13.6" dy="1.0">×</tspan><tspan dy="-1.0"> 10</tspan><tspan font-size="7.7" dy="-4.3">−5</tspan></text>
<text transform="translate(181.60,437.00) rotate(-45)" font-size="11.6" text-anchor="end">IMA1pep Ox 15</text>
<rect x="205.60" y="392.29" width="10.60" height="32.21" fill="#7f7f7f" stroke="#000" stroke-width="1"/>
<rect x="216.20" y="330.44" width="11.10" height="94.06" fill="#fff" stroke="#000" stroke-width="1"/>
<circle cx="211.80" cy="387.78" r="1.8" fill="#dcdcdc" fill-opacity="0.85" stroke="#000" stroke-width="1"/>
<circle cx="211.80" cy="390.19" r="1.8" fill="#dcdcdc" fill-opacity="0.85" stroke="#000" stroke-width="1"/>
<circle cx="211.80" cy="392.89" r="1.8" fill="#dcdcdc" fill-opacity="0.85" stroke="#000" stroke-width="1"/>
<circle cx="211.80" cy="395.00" r="1.8" fill="#dcdcdc" fill-opacity="0.85" stroke="#000" stroke-width="1"/>
<circle cx="211.80" cy="397.41" r="1.8" fill="#dcdcdc" fill-opacity="0.85" stroke="#000" stroke-width="1"/>
<circle cx="222.60" cy="320.35" r="1.8" fill="#dcdcdc" fill-opacity="0.85" stroke="#000" stroke-width="1"/>
<circle cx="222.60" cy="328.78" r="1.8" fill="#dcdcdc" fill-opacity="0.85" stroke="#000" stroke-width="1"/>
<circle cx="222.60" cy="330.89" r="1.8" fill="#dcdcdc" fill-opacity="0.85" stroke="#000" stroke-width="1"/>
<circle cx="222.60" cy="333.00" r="1.8" fill="#dcdcdc" fill-opacity="0.85" stroke="#000" stroke-width="1"/>
<circle cx="222.60" cy="335.40" r="1.8" fill="#dcdcdc" fill-opacity="0.85" stroke="#000" stroke-width="1"/>
<circle cx="222.60" cy="336.91" r="1.8" fill="#dcdcdc" fill-opacity="0.85" stroke="#000" stroke-width="1"/>
<text transform="translate(214.30,379.90) rotate(-90)" font-size="7.4" text-anchor="middle">★</text>
<text transform="translate(214.20,378.00) rotate(-90)" font-size="11.1">1 <tspan font-size="13.6" dy="1.0">×</tspan><tspan dy="-1.0"> 10</tspan><tspan font-size="7.7" dy="-4.3">−6</tspan></text>
<text transform="translate(218.70,437.00) rotate(-45)" font-size="11.6" text-anchor="end">IMA1pep Ox 16</text>
<rect x="187.80" y="297.10" width="6.00" height="6.00" fill="#7f7f7f" stroke="#000" stroke-width="1"/>
<text x="197.20" y="303.60" font-size="11.1">+Fe</text>
<rect x="187.80" y="309.10" width="6.00" height="6.00" fill="#fff" stroke="#000" stroke-width="1"/>
<text x="197.20" y="315.70" font-size="11.1">–Fe</text>
</g>
<g id="panel-d">
<text x="258.60" y="298.50" font-size="13.2" font-weight="bold">d</text>
<text x="346.30" y="314.90" font-size="11.6" text-anchor="end">Positive control</text>
<rect x="258.70" y="329.80" width="58.10" height="26.00" fill="#ffc000"/>
<rect x="316.80" y="329.80" width="29.50" height="26.00" fill="#c00000"/>
<rect x="258.70" y="329.80" width="87.60" height="26.00" fill="none" stroke="#1a1a1a" stroke-width="0.9"/>
<line x1="316.80" y1="329.80" x2="316.80" y2="355.80" stroke="#333" stroke-width="0.6"/>
<rect x="258.70" y="378.00" width="5.90" height="25.20" fill="#ffc000"/>
<rect x="264.60" y="378.00" width="19.20" height="25.20" fill="#000"/>
<rect x="283.80" y="378.00" width="33.00" height="25.20" fill="#ffc000"/>
<rect x="316.80" y="378.00" width="29.50" height="25.20" fill="#c00000"/>
<rect x="258.70" y="378.00" width="87.60" height="25.20" fill="none" stroke="#1a1a1a" stroke-width="0.9"/>
<line x1="316.80" y1="378.00" x2="316.80" y2="403.20" stroke="#333" stroke-width="0.6"/>
<rect x="258.70" y="425.10" width="30.50" height="25.30" fill="#ffc000"/>
<rect x="289.20" y="425.10" width="19.60" height="25.30" fill="#000"/>
<rect x="308.80" y="425.10" width="8.00" height="25.30" fill="#ffc000"/>
<rect x="316.80" y="425.10" width="29.50" height="25.30" fill="#c00000"/>
<rect x="258.70" y="425.10" width="87.60" height="25.30" fill="none" stroke="#1a1a1a" stroke-width="0.9"/>
<line x1="316.80" y1="425.10" x2="316.80" y2="450.40" stroke="#333" stroke-width="0.6"/>
<rect x="258.70" y="473.20" width="58.10" height="25.40" fill="#ffc000"/>
<rect x="316.80" y="473.20" width="3.20" height="25.40" fill="#c00000"/>
<rect x="320.00" y="473.20" width="14.60" height="25.40" fill="#000"/>
<rect x="334.60" y="473.20" width="11.70" height="25.40" fill="#c00000"/>
<rect x="258.70" y="473.20" width="87.60" height="25.40" fill="none" stroke="#1a1a1a" stroke-width="0.9"/>
<line x1="316.80" y1="473.20" x2="316.80" y2="498.60" stroke="#333" stroke-width="0.6"/>
<text x="274.30" y="394.60" font-size="11.6" fill="#fff" text-anchor="middle">Δ1</text>
<text x="299.20" y="441.70" font-size="11.6" fill="#fff" text-anchor="middle">Δ2</text>
<text x="327.50" y="489.80" font-size="11.6" fill="#fff" text-anchor="middle">Δ3</text>
<line x1="351.20" y1="302.50" x2="351.20" y2="319.20" stroke="#222" stroke-width="1"/>
<line x1="351.20" y1="324.30" x2="351.20" y2="361.90" stroke="#222" stroke-width="1"/>
<line x1="351.20" y1="371.50" x2="351.20" y2="409.20" stroke="#222" stroke-width="1"/>
<line x1="351.20" y1="419.30" x2="351.20" y2="457.80" stroke="#222" stroke-width="1"/>
<line x1="351.20" y1="466.80" x2="351.20" y2="505.30" stroke="#222" stroke-width="1"/>
<text x="459.10" y="311.50" font-size="11.6" text-anchor="end">EYFP Ox</text>
<rect x="463.40" y="304.90" width="9.01" height="4.00" fill="#7f7f7f" stroke="#000" stroke-width="1.15"/>
<rect x="463.40" y="308.90" width="118.92" height="4.20" fill="#fff" stroke="#000" stroke-width="1.15"/>
<circle cx="466.40" cy="306.90" r="1.8" fill="#dcdcdc" fill-opacity="0.85" stroke="#000" stroke-width="1"/>
<circle cx="470.01" cy="306.90" r="1.8" fill="#dcdcdc" fill-opacity="0.85" stroke="#000" stroke-width="1"/>
<circle cx="472.41" cy="306.90" r="1.8" fill="#dcdcdc" fill-opacity="0.85" stroke="#000" stroke-width="1"/>
<circle cx="475.71" cy="306.90" r="1.8" fill="#dcdcdc" fill-opacity="0.85" stroke="#000" stroke-width="1"/>
<circle cx="534.57" cy="311.00" r="1.8" fill="#dcdcdc" fill-opacity="0.85" stroke="#000" stroke-width="1"/>
<circle cx="555.89" cy="311.00" r="1.8" fill="#dcdcdc" fill-opacity="0.85" stroke="#000" stroke-width="1"/>
<circle cx="569.11" cy="311.00" r="1.8" fill="#dcdcdc" fill-opacity="0.85" stroke="#000" stroke-width="1"/>
<circle cx="573.61" cy="311.00" r="1.8" fill="#dcdcdc" fill-opacity="0.85" stroke="#000" stroke-width="1"/>
<circle cx="577.21" cy="311.00" r="1.8" fill="#dcdcdc" fill-opacity="0.85" stroke="#000" stroke-width="1"/>
<circle cx="581.42" cy="311.00" r="1.8" fill="#dcdcdc" fill-opacity="0.85" stroke="#000" stroke-width="1"/>
<circle cx="588.63" cy="311.00" r="1.8" fill="#dcdcdc" fill-opacity="0.85" stroke="#000" stroke-width="1"/>
<circle cx="591.03" cy="311.00" r="1.8" fill="#dcdcdc" fill-opacity="0.85" stroke="#000" stroke-width="1"/>
<circle cx="594.93" cy="311.00" r="1.8" fill="#dcdcdc" fill-opacity="0.85" stroke="#000" stroke-width="1"/>
<circle cx="603.94" cy="311.00" r="1.8" fill="#dcdcdc" fill-opacity="0.85" stroke="#000" stroke-width="1"/>
<circle cx="607.24" cy="311.00" r="1.8" fill="#dcdcdc" fill-opacity="0.85" stroke="#000" stroke-width="1"/>
<text x="456.40" y="327.50" font-size="11.6" text-anchor="end">IMA1c Ox 3-4</text>
<rect x="463.40" y="320.90" width="13.51" height="4.00" fill="#7f7f7f" stroke="#000" stroke-width="1.15"/>
<rect x="463.40" y="324.90" width="123.12" height="4.20" fill="#fff" stroke="#000" stroke-width="1.15"/>
<circle cx="479.02" cy="322.90" r="1.8" fill="#dcdcdc" fill-opacity="0.85" stroke="#000" stroke-width="1"/>
<circle cx="482.92" cy="322.90" r="1.8" fill="#dcdcdc" fill-opacity="0.85" stroke="#000" stroke-width="1"/>
<circle cx="488.32" cy="322.90" r="1.8" fill="#dcdcdc" fill-opacity="0.85" stroke="#000" stroke-width="1"/>
<circle cx="547.78" cy="327.00" r="1.8" fill="#dcdcdc" fill-opacity="0.85" stroke="#000" stroke-width="1"/>
<circle cx="558.29" cy="327.00" r="1.8" fill="#dcdcdc" fill-opacity="0.85" stroke="#000" stroke-width="1"/>
<circle cx="581.72" cy="327.00" r="1.8" fill="#dcdcdc" fill-opacity="0.85" stroke="#000" stroke-width="1"/>
<circle cx="585.32" cy="327.00" r="1.8" fill="#dcdcdc" fill-opacity="0.85" stroke="#000" stroke-width="1"/>
<circle cx="616.55" cy="327.00" r="1.8" fill="#dcdcdc" fill-opacity="0.85" stroke="#000" stroke-width="1"/>
<circle cx="621.06" cy="327.00" r="1.8" fill="#dcdcdc" fill-opacity="0.85" stroke="#000" stroke-width="1"/>
<text x="494.80" y="323.40" font-size="6" text-anchor="middle">★</text>
<text x="504.60" y="323.30" font-size="6.9" fill="#333">6 × 10<tspan font-size="4.6" dy="-2.6">−6</tspan></text>
<text x="456.40" y="343.50" font-size="11.6" text-anchor="end">IMA1o Ox 7-4</text>
<rect x="463.40" y="336.90" width="30.93" height="4.00" fill="#7f7f7f" stroke="#000" stroke-width="1.15"/>
<rect x="463.40" y="340.90" width="125.23" height="4.20" fill="#fff" stroke="#000" stroke-width="1.15"/>
<circle cx="495.53" cy="338.90" r="1.8" fill="#dcdcdc" fill-opacity="0.85" stroke="#000" stroke-width="1"/>
<circle cx="497.63" cy="338.90" r="1.8" fill="#dcdcdc" fill-opacity="0.85" stroke="#000" stroke-width="1"/>
<circle cx="502.14" cy="338.90" r="1.8" fill="#dcdcdc" fill-opacity="0.85" stroke="#000" stroke-width="1"/>
<circle cx="504.84" cy="338.90" r="1.8" fill="#dcdcdc" fill-opacity="0.85" stroke="#000" stroke-width="1"/>
<circle cx="510.55" cy="338.90" r="1.8" fill="#dcdcdc" fill-opacity="0.85" stroke="#000" stroke-width="1"/>
<circle cx="553.49" cy="343.00" r="1.8" fill="#dcdcdc" fill-opacity="0.85" stroke="#000" stroke-width="1"/>
<circle cx="562.20" cy="343.00" r="1.8" fill="#dcdcdc" fill-opacity="0.85" stroke="#000" stroke-width="1"/>
<circle cx="587.42" cy="343.00" r="1.8" fill="#dcdcdc" fill-opacity="0.85" stroke="#000" stroke-width="1"/>
<circle cx="593.73" cy="343.00" r="1.8" fill="#dcdcdc" fill-opacity="0.85" stroke="#000" stroke-width="1"/>
<circle cx="602.74" cy="343.00" r="1.8" fill="#dcdcdc" fill-opacity="0.85" stroke="#000" stroke-width="1"/>
<circle cx="620.76" cy="343.00" r="1.8" fill="#dcdcdc" fill-opacity="0.85" stroke="#000" stroke-width="1"/>
<text x="516.30" y="339.40" font-size="6" text-anchor="middle">★</text>
<text x="523.00" y="339.30" font-size="6.9" fill="#333">2 × 10<tspan font-size="4.6" dy="-2.6">−10</tspan></text>
<text x="456.40" y="359.50" font-size="11.6" text-anchor="end">IMA1o Ox 8-5</text>
<rect x="463.40" y="352.90" width="31.83" height="4.00" fill="#7f7f7f" stroke="#000" stroke-width="1.15"/>
<rect x="463.40" y="356.90" width="139.04" height="4.20" fill="#fff" stroke="#000" stroke-width="1.15"/>
<circle cx="497.03" cy="354.90" r="1.8" fill="#dcdcdc" fill-opacity="0.85" stroke="#000" stroke-width="1"/>
<circle cx="499.44" cy="354.90" r="1.8" fill="#dcdcdc" fill-opacity="0.85" stroke="#000" stroke-width="1"/>
<circle cx="503.94" cy="354.90" r="1.8" fill="#dcdcdc" fill-opacity="0.85" stroke="#000" stroke-width="1"/>
<circle cx="514.45" cy="354.90" r="1.8" fill="#dcdcdc" fill-opacity="0.85" stroke="#000" stroke-width="1"/>
<circle cx="523.76" cy="354.90" r="1.8" fill="#dcdcdc" fill-opacity="0.85" stroke="#000" stroke-width="1"/>
<circle cx="591.03" cy="359.00" r="1.8" fill="#dcdcdc" fill-opacity="0.85" stroke="#000" stroke-width="1"/>
<circle cx="598.84" cy="359.00" r="1.8" fill="#dcdcdc" fill-opacity="0.85" stroke="#000" stroke-width="1"/>
<circle cx="601.54" cy="359.00" r="1.8" fill="#dcdcdc" fill-opacity="0.85" stroke="#000" stroke-width="1"/>
<circle cx="607.24" cy="359.00" r="1.8" fill="#dcdcdc" fill-opacity="0.85" stroke="#000" stroke-width="1"/>
<circle cx="610.25" cy="359.00" r="1.8" fill="#dcdcdc" fill-opacity="0.85" stroke="#000" stroke-width="1"/>
<text x="530.70" y="355.40" font-size="6" text-anchor="middle">★</text>
<text x="540.00" y="355.30" font-size="6.9" fill="#333">2 × 10<tspan font-size="4.6" dy="-2.6">−6</tspan></text>
<text x="457.30" y="375.50" font-size="11.6" text-anchor="end">IMA1oΔ1 Ox 14-2</text>
<rect x="463.40" y="368.90" width="68.17" height="4.00" fill="#7f7f7f" stroke="#000" stroke-width="1.15"/>
<rect x="463.40" y="372.90" width="159.46" height="4.20" fill="#fff" stroke="#000" stroke-width="1.15"/>
<circle cx="508.44" cy="370.90" r="1.8" fill="#dcdcdc" fill-opacity="0.85" stroke="#000" stroke-width="1"/>
<circle cx="511.75" cy="370.90" r="1.8" fill="#dcdcdc" fill-opacity="0.85" stroke="#000" stroke-width="1"/>
<circle cx="536.37" cy="370.90" r="1.8" fill="#dcdcdc" fill-opacity="0.85" stroke="#000" stroke-width="1"/>
<circle cx="546.88" cy="370.90" r="1.8" fill="#dcdcdc" fill-opacity="0.85" stroke="#000" stroke-width="1"/>
<circle cx="596.13" cy="375.00" r="1.8" fill="#dcdcdc" fill-opacity="0.85" stroke="#000" stroke-width="1"/>
<circle cx="605.14" cy="375.00" r="1.8" fill="#dcdcdc" fill-opacity="0.85" stroke="#000" stroke-width="1"/>
<circle cx="627.66" cy="375.00" r="1.8" fill="#dcdcdc" fill-opacity="0.85" stroke="#000" stroke-width="1"/>
<circle cx="630.67" cy="375.00" r="1.8" fill="#dcdcdc" fill-opacity="0.85" stroke="#000" stroke-width="1"/>
<circle cx="637.27" cy="375.00" r="1.8" fill="#dcdcdc" fill-opacity="0.85" stroke="#000" stroke-width="1"/>
<circle cx="639.08" cy="375.00" r="1.8" fill="#dcdcdc" fill-opacity="0.85" stroke="#000" stroke-width="1"/>
<text x="553.60" y="371.40" font-size="6" text-anchor="middle">★</text>
<text x="563.60" y="371.30" font-size="6.9" fill="#333">5 × 10<tspan font-size="4.6" dy="-2.6">−8</tspan></text>
<text x="457.30" y="391.50" font-size="11.6" text-anchor="end">IMA1oΔ1 Ox 15-5</text>
<rect x="463.40" y="384.90" width="58.86" height="4.00" fill="#7f7f7f" stroke="#000" stroke-width="1.15"/>
<rect x="463.40" y="388.90" width="152.85" height="4.20" fill="#fff" stroke="#000" stroke-width="1.15"/>
<circle cx="513.25" cy="386.90" r="1.8" fill="#dcdcdc" fill-opacity="0.85" stroke="#000" stroke-width="1"/>
<circle cx="520.46" cy="386.90" r="1.8" fill="#dcdcdc" fill-opacity="0.85" stroke="#000" stroke-width="1"/>
<circle cx="524.96" cy="386.90" r="1.8" fill="#dcdcdc" fill-opacity="0.85" stroke="#000" stroke-width="1"/>
<circle cx="540.28" cy="386.90" r="1.8" fill="#dcdcdc" fill-opacity="0.85" stroke="#000" stroke-width="1"/>
<circle cx="600.64" cy="391.00" r="1.8" fill="#dcdcdc" fill-opacity="0.85" stroke="#000" stroke-width="1"/>
<circle cx="609.95" cy="391.00" r="1.8" fill="#dcdcdc" fill-opacity="0.85" stroke="#000" stroke-width="1"/>
<circle cx="612.35" cy="391.00" r="1.8" fill="#dcdcdc" fill-opacity="0.85" stroke="#000" stroke-width="1"/>
<circle cx="615.35" cy="391.00" r="1.8" fill="#dcdcdc" fill-opacity="0.85" stroke="#000" stroke-width="1"/>
<circle cx="627.06" cy="391.00" r="1.8" fill="#dcdcdc" fill-opacity="0.85" stroke="#000" stroke-width="1"/>
<circle cx="628.26" cy="391.00" r="1.8" fill="#dcdcdc" fill-opacity="0.85" stroke="#000" stroke-width="1"/>
<text x="547.00" y="387.40" font-size="6" text-anchor="middle">★</text>
<text x="553.60" y="387.30" font-size="6.9" fill="#333">5 × 10<tspan font-size="4.6" dy="-2.6">−11</tspan></text>
<text x="457.30" y="407.50" font-size="11.6" text-anchor="end">IMA1oΔ1 Ox 27-4</text>
<rect x="463.40" y="400.90" width="51.95" height="4.00" fill="#7f7f7f" stroke="#000" stroke-width="1.15"/>
<rect x="463.40" y="404.90" width="145.04" height="4.20" fill="#fff" stroke="#000" stroke-width="1.15"/>
<circle cx="501.24" cy="402.90" r="1.8" fill="#dcdcdc" fill-opacity="0.85" stroke="#000" stroke-width="1"/>
<circle cx="510.85" cy="402.90" r="1.8" fill="#dcdcdc" fill-opacity="0.85" stroke="#000" stroke-width="1"/>
<circle cx="513.55" cy="402.90" r="1.8" fill="#dcdcdc" fill-opacity="0.85" stroke="#000" stroke-width="1"/>
<circle cx="521.06" cy="402.90" r="1.8" fill="#dcdcdc" fill-opacity="0.85" stroke="#000" stroke-width="1"/>
<circle cx="525.56" cy="402.90" r="1.8" fill="#dcdcdc" fill-opacity="0.85" stroke="#000" stroke-width="1"/>
<circle cx="577.81" cy="407.00" r="1.8" fill="#dcdcdc" fill-opacity="0.85" stroke="#000" stroke-width="1"/>
<circle cx="594.93" cy="407.00" r="1.8" fill="#dcdcdc" fill-opacity="0.85" stroke="#000" stroke-width="1"/>
<circle cx="606.64" cy="407.00" r="1.8" fill="#dcdcdc" fill-opacity="0.85" stroke="#000" stroke-width="1"/>
<circle cx="611.15" cy="407.00" r="1.8" fill="#dcdcdc" fill-opacity="0.85" stroke="#000" stroke-width="1"/>
<circle cx="621.96" cy="407.00" r="1.8" fill="#dcdcdc" fill-opacity="0.85" stroke="#000" stroke-width="1"/>
<circle cx="636.97" cy="407.00" r="1.8" fill="#dcdcdc" fill-opacity="0.85" stroke="#000" stroke-width="1"/>
<text x="533.80" y="403.40" font-size="6" text-anchor="middle">★</text>
<text x="542.00" y="403.30" font-size="6.9" fill="#333">7 × 10<tspan font-size="4.6" dy="-2.6">−10</tspan></text>
<text x="457.30" y="423.50" font-size="11.6" text-anchor="end">IMA1oΔ2 Ox 2-3</text>
<rect x="463.40" y="416.90" width="56.16" height="4.00" fill="#7f7f7f" stroke="#000" stroke-width="1.15"/>
<rect x="463.40" y="420.90" width="144.14" height="4.20" fill="#fff" stroke="#000" stroke-width="1.15"/>
<circle cx="502.44" cy="418.90" r="1.8" fill="#dcdcdc" fill-opacity="0.85" stroke="#000" stroke-width="1"/>
<circle cx="510.55" cy="418.90" r="1.8" fill="#dcdcdc" fill-opacity="0.85" stroke="#000" stroke-width="1"/>
<circle cx="522.26" cy="418.90" r="1.8" fill="#dcdcdc" fill-opacity="0.85" stroke="#000" stroke-width="1"/>
<circle cx="566.10" cy="418.90" r="1.8" fill="#dcdcdc" fill-opacity="0.85" stroke="#000" stroke-width="1"/>
<circle cx="569.11" cy="423.00" r="1.8" fill="#dcdcdc" fill-opacity="0.85" stroke="#000" stroke-width="1"/>
<circle cx="573.61" cy="423.00" r="1.8" fill="#dcdcdc" fill-opacity="0.85" stroke="#000" stroke-width="1"/>
<circle cx="612.35" cy="423.00" r="1.8" fill="#dcdcdc" fill-opacity="0.85" stroke="#000" stroke-width="1"/>
<circle cx="622.86" cy="423.00" r="1.8" fill="#dcdcdc" fill-opacity="0.85" stroke="#000" stroke-width="1"/>
<circle cx="624.66" cy="423.00" r="1.8" fill="#dcdcdc" fill-opacity="0.85" stroke="#000" stroke-width="1"/>
<circle cx="642.08" cy="423.00" r="1.8" fill="#dcdcdc" fill-opacity="0.85" stroke="#000" stroke-width="1"/>
<text x="530.00" y="419.40" font-size="6" text-anchor="middle">★</text>
<text x="537.00" y="419.30" font-size="6.9" fill="#333">6 × 10<tspan font-size="4.6" dy="-2.6">−6</tspan></text>
<text x="457.30" y="439.50" font-size="11.6" text-anchor="end">IMA1oΔ2 Ox 9-2</text>
<rect x="463.40" y="432.90" width="44.14" height="4.00" fill="#7f7f7f" stroke="#000" stroke-width="1.15"/>
<rect x="463.40" y="436.90" width="148.65" height="4.20" fill="#fff" stroke="#000" stroke-width="1.15"/>
<circle cx="500.34" cy="434.90" r="1.8" fill="#dcdcdc" fill-opacity="0.85" stroke="#000" stroke-width="1"/>
<circle cx="503.04" cy="434.90" r="1.8" fill="#dcdcdc" fill-opacity="0.85" stroke="#000" stroke-width="1"/>
<circle cx="505.74" cy="434.90" r="1.8" fill="#dcdcdc" fill-opacity="0.85" stroke="#000" stroke-width="1"/>
<circle cx="510.55" cy="434.90" r="1.8" fill="#dcdcdc" fill-opacity="0.85" stroke="#000" stroke-width="1"/>
<circle cx="515.35" cy="434.90" r="1.8" fill="#dcdcdc" fill-opacity="0.85" stroke="#000" stroke-width="1"/>
<circle cx="574.51" cy="439.00" r="1.8" fill="#dcdcdc" fill-opacity="0.85" stroke="#000" stroke-width="1"/>
<circle cx="611.15" cy="439.00" r="1.8" fill="#dcdcdc" fill-opacity="0.85" stroke="#000" stroke-width="1"/>
<circle cx="617.15" cy="439.00" r="1.8" fill="#dcdcdc" fill-opacity="0.85" stroke="#000" stroke-width="1"/>
<circle cx="620.46" cy="439.00" r="1.8" fill="#dcdcdc" fill-opacity="0.85" stroke="#000" stroke-width="1"/>
<circle cx="622.26" cy="439.00" r="1.8" fill="#dcdcdc" fill-opacity="0.85" stroke="#000" stroke-width="1"/>
<text x="522.40" y="435.40" font-size="6" text-anchor="middle">★</text>
<text x="531.20" y="435.30" font-size="6.9" fill="#333">3 × 10<tspan font-size="4.6" dy="-2.6">−11</tspan></text>
<text x="457.30" y="455.50" font-size="11.6" text-anchor="end">IMA1oΔ2 Ox 13-5</text>
<rect x="463.40" y="448.90" width="47.45" height="4.00" fill="#7f7f7f" stroke="#000" stroke-width="1.15"/>
<rect x="463.40" y="452.90" width="148.65" height="4.20" fill="#fff" stroke="#000" stroke-width="1.15"/>
<circle cx="486.82" cy="450.90" r="1.8" fill="#dcdcdc" fill-opacity="0.85" stroke="#000" stroke-width="1"/>
<circle cx="499.14" cy="450.90" r="1.8" fill="#dcdcdc" fill-opacity="0.85" stroke="#000" stroke-width="1"/>
<circle cx="513.55" cy="450.90" r="1.8" fill="#dcdcdc" fill-opacity="0.85" stroke="#000" stroke-width="1"/>
<circle cx="516.55" cy="450.90" r="1.8" fill="#dcdcdc" fill-opacity="0.85" stroke="#000" stroke-width="1"/>
<circle cx="521.36" cy="450.90" r="1.8" fill="#dcdcdc" fill-opacity="0.85" stroke="#000" stroke-width="1"/>
<circle cx="525.56" cy="450.90" r="1.8" fill="#dcdcdc" fill-opacity="0.85" stroke="#000" stroke-width="1"/>
<circle cx="599.74" cy="455.00" r="1.8" fill="#dcdcdc" fill-opacity="0.85" stroke="#000" stroke-width="1"/>
<circle cx="603.64" cy="455.00" r="1.8" fill="#dcdcdc" fill-opacity="0.85" stroke="#000" stroke-width="1"/>
<circle cx="612.95" cy="455.00" r="1.8" fill="#dcdcdc" fill-opacity="0.85" stroke="#000" stroke-width="1"/>
<circle cx="615.95" cy="455.00" r="1.8" fill="#dcdcdc" fill-opacity="0.85" stroke="#000" stroke-width="1"/>
<circle cx="619.86" cy="455.00" r="1.8" fill="#dcdcdc" fill-opacity="0.85" stroke="#000" stroke-width="1"/>
<text x="532.60" y="451.40" font-size="6" text-anchor="middle">★</text>
<text x="542.00" y="451.30" font-size="6.9" fill="#333">2 × 10<tspan font-size="4.6" dy="-2.6">−7</tspan></text>
<text x="457.30" y="471.50" font-size="11.6" text-anchor="end">IMA1oΔ3 Ox 15-2</text>
<rect x="463.40" y="464.90" width="8.11" height="4.00" fill="#7f7f7f" stroke="#000" stroke-width="1.15"/>
<rect x="463.40" y="468.90" width="143.84" height="4.20" fill="#fff" stroke="#000" stroke-width="1.15"/>
<circle cx="465.50" cy="466.90" r="1.8" fill="#dcdcdc" fill-opacity="0.85" stroke="#000" stroke-width="1"/>
<circle cx="469.41" cy="466.90" r="1.8" fill="#dcdcdc" fill-opacity="0.85" stroke="#000" stroke-width="1"/>
<circle cx="470.91" cy="466.90" r="1.8" fill="#dcdcdc" fill-opacity="0.85" stroke="#000" stroke-width="1"/>
<circle cx="476.01" cy="466.90" r="1.8" fill="#dcdcdc" fill-opacity="0.85" stroke="#000" stroke-width="1"/>
<circle cx="481.12" cy="466.90" r="1.8" fill="#dcdcdc" fill-opacity="0.85" stroke="#000" stroke-width="1"/>
<circle cx="584.42" cy="471.00" r="1.8" fill="#dcdcdc" fill-opacity="0.85" stroke="#000" stroke-width="1"/>
<circle cx="589.83" cy="471.00" r="1.8" fill="#dcdcdc" fill-opacity="0.85" stroke="#000" stroke-width="1"/>
<circle cx="625.56" cy="471.00" r="1.8" fill="#dcdcdc" fill-opacity="0.85" stroke="#000" stroke-width="1"/>
<circle cx="627.66" cy="471.00" r="1.8" fill="#dcdcdc" fill-opacity="0.85" stroke="#000" stroke-width="1"/>
<text x="457.30" y="487.50" font-size="11.6" text-anchor="end">IMA1oΔ3 Ox 27-2</text>
<rect x="463.40" y="480.90" width="8.11" height="4.00" fill="#7f7f7f" stroke="#000" stroke-width="1.15"/>
<rect x="463.40" y="484.90" width="129.13" height="4.20" fill="#fff" stroke="#000" stroke-width="1.15"/>
<circle cx="465.50" cy="482.90" r="1.8" fill="#dcdcdc" fill-opacity="0.85" stroke="#000" stroke-width="1"/>
<circle cx="469.11" cy="482.90" r="1.8" fill="#dcdcdc" fill-opacity="0.85" stroke="#000" stroke-width="1"/>
<circle cx="471.81" cy="482.90" r="1.8" fill="#dcdcdc" fill-opacity="0.85" stroke="#000" stroke-width="1"/>
<circle cx="474.21" cy="482.90" r="1.8" fill="#dcdcdc" fill-opacity="0.85" stroke="#000" stroke-width="1"/>
<circle cx="477.51" cy="482.90" r="1.8" fill="#dcdcdc" fill-opacity="0.85" stroke="#000" stroke-width="1"/>
<circle cx="557.99" cy="487.00" r="1.8" fill="#dcdcdc" fill-opacity="0.85" stroke="#000" stroke-width="1"/>
<circle cx="560.10" cy="487.00" r="1.8" fill="#dcdcdc" fill-opacity="0.85" stroke="#000" stroke-width="1"/>
<circle cx="573.01" cy="487.00" r="1.8" fill="#dcdcdc" fill-opacity="0.85" stroke="#000" stroke-width="1"/>
<circle cx="585.62" cy="487.00" r="1.8" fill="#dcdcdc" fill-opacity="0.85" stroke="#000" stroke-width="1"/>
<circle cx="590.13" cy="487.00" r="1.8" fill="#dcdcdc" fill-opacity="0.85" stroke="#000" stroke-width="1"/>
<circle cx="637.27" cy="487.00" r="1.8" fill="#dcdcdc" fill-opacity="0.85" stroke="#000" stroke-width="1"/>
<circle cx="639.08" cy="487.00" r="1.8" fill="#dcdcdc" fill-opacity="0.85" stroke="#000" stroke-width="1"/>
<text x="457.30" y="503.50" font-size="11.6" text-anchor="end">IMA1oΔ3 Ox 30-5</text>
<rect x="463.40" y="496.90" width="8.11" height="4.00" fill="#7f7f7f" stroke="#000" stroke-width="1.15"/>
<rect x="463.40" y="500.90" width="139.64" height="4.20" fill="#fff" stroke="#000" stroke-width="1.15"/>
<circle cx="465.50" cy="498.90" r="1.8" fill="#dcdcdc" fill-opacity="0.85" stroke="#000" stroke-width="1"/>
<circle cx="469.11" cy="498.90" r="1.8" fill="#dcdcdc" fill-opacity="0.85" stroke="#000" stroke-width="1"/>
<circle cx="471.81" cy="498.90" r="1.8" fill="#dcdcdc" fill-opacity="0.85" stroke="#000" stroke-width="1"/>
<circle cx="473.31" cy="498.90" r="1.8" fill="#dcdcdc" fill-opacity="0.85" stroke="#000" stroke-width="1"/>
<circle cx="479.32" cy="498.90" r="1.8" fill="#dcdcdc" fill-opacity="0.85" stroke="#000" stroke-width="1"/>
<circle cx="575.71" cy="503.00" r="1.8" fill="#dcdcdc" fill-opacity="0.85" stroke="#000" stroke-width="1"/>
<circle cx="597.03" cy="503.00" r="1.8" fill="#dcdcdc" fill-opacity="0.85" stroke="#000" stroke-width="1"/>
<circle cx="601.54" cy="503.00" r="1.8" fill="#dcdcdc" fill-opacity="0.85" stroke="#000" stroke-width="1"/>
<circle cx="606.04" cy="503.00" r="1.8" fill="#dcdcdc" fill-opacity="0.85" stroke="#000" stroke-width="1"/>
<circle cx="616.85" cy="503.00" r="1.8" fill="#dcdcdc" fill-opacity="0.85" stroke="#000" stroke-width="1"/>
<circle cx="625.86" cy="503.00" r="1.8" fill="#dcdcdc" fill-opacity="0.85" stroke="#000" stroke-width="1"/>
<line x1="463.40" y1="300.60" x2="463.40" y2="508.70" stroke="#222" stroke-width="1"/>
<line x1="462.90" y1="508.20" x2="674.11" y2="508.20" stroke="#222" stroke-width="1"/>
<line x1="463.40" y1="508.20" x2="463.40" y2="512.20" stroke="#222" stroke-width="1"/>
<text x="463.40" y="526.00" font-size="11.3" text-anchor="middle">0</text>
<line x1="493.43" y1="508.20" x2="493.43" y2="512.20" stroke="#222" stroke-width="1"/>
<text x="493.43" y="526.00" font-size="11.3" text-anchor="middle">1</text>
<line x1="523.46" y1="508.20" x2="523.46" y2="512.20" stroke="#222" stroke-width="1"/>
<text x="523.46" y="526.00" font-size="11.3" text-anchor="middle">2</text>
<line x1="553.49" y1="508.20" x2="553.49" y2="512.20" stroke="#222" stroke-width="1"/>
<text x="553.49" y="526.00" font-size="11.3" text-anchor="middle">3</text>
<line x1="583.52" y1="508.20" x2="583.52" y2="512.20" stroke="#222" stroke-width="1"/>
<text x="583.52" y="526.00" font-size="11.3" text-anchor="middle">4</text>
<line x1="613.55" y1="508.20" x2="613.55" y2="512.20" stroke="#222" stroke-width="1"/>
<text x="613.55" y="526.00" font-size="11.3" text-anchor="middle">5</text>
<line x1="643.58" y1="508.20" x2="643.58" y2="512.20" stroke="#222" stroke-width="1"/>
<text x="643.58" y="526.00" font-size="11.3" text-anchor="middle">6</text>
<line x1="673.61" y1="508.20" x2="673.61" y2="512.20" stroke="#222" stroke-width="1"/>
<text x="673.61" y="526.00" font-size="11.3" text-anchor="middle">7</text>
<text x="568.7" y="547.2" font-size="11.6" text-anchor="middle">Root FCR activity (µmol h<tspan font-size="7.9" dy="-4">−1</tspan><tspan dy="4"> g</tspan><tspan font-size="7.9" dy="-4">−1</tspan><tspan dy="4"> FW)</tspan></text>
<rect x="636.90" y="305.30" width="6.60" height="6.60" fill="#7f7f7f" stroke="#000" stroke-width="1"/>
<text x="648.80" y="312.60" font-size="11.1">+Fe</text>
<rect x="636.90" y="320.90" width="6.60" height="6.60" fill="#fff" stroke="#000" stroke-width="1"/>
<text x="648.80" y="328.20" font-size="11.1">–Fe</text>
</g>
</svg>
</body></html>
